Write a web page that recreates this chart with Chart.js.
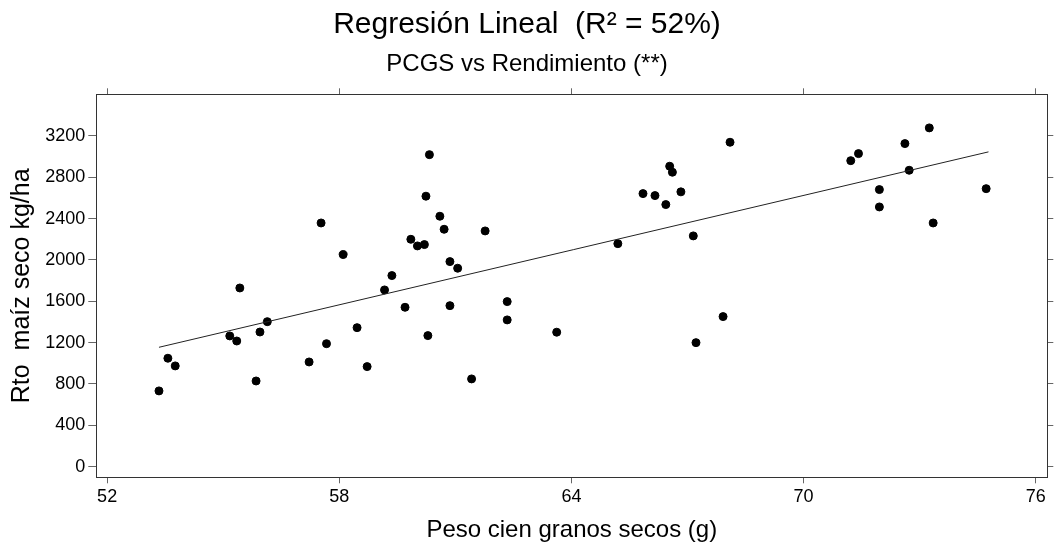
<!DOCTYPE html>
<html>
<head>
<meta charset="utf-8">
<script src="https://cdn.jsdelivr.net/npm/chart.js@4"></script>
<style>
  html, body { margin: 0; padding: 0; background: #fff; }
  #wrap { width: 1054px; height: 547px; position: relative; }
</style>
</head>
<body>
<div id="wrap"><canvas id="regChart"></canvas></div>
<script>
// Peso cien granos secos (g)
const pesoGranos = [
  53.34, 53.57, 53.76, 55.17, 55.35, 55.43, 55.85, 55.95, 56.14, 57.22,
  57.53, 57.67, 58.10, 58.46, 58.72, 59.17, 59.36, 59.70, 59.85, 60.02,
  60.20, 60.24, 60.29, 60.33, 60.60, 60.71, 60.86, 60.86, 61.06, 61.42,
  61.77, 62.34, 62.34, 63.62, 65.20, 65.85, 66.16, 66.44, 66.54, 66.61,
  66.83, 67.15, 67.22, 67.92, 68.10, 71.22, 71.42, 71.96, 71.96, 72.62,
  72.73, 73.25, 73.35, 74.72
];
// Rto maiz seco kg/ha
const rendimiento = [
  733, 1049, 975, 1265, 1216, 1729, 829, 1303, 1403, 1013,
  2358, 1190, 2052, 1345, 968, 1710, 1849, 1542, 2200, 2136,
  2149, 2617, 1268, 3019, 2423, 2297, 1984, 1558, 1920, 849,
  2281, 1597, 1420, 1301, 2158, 2642, 2623, 2536, 2907, 2849,
  2659, 2233, 1200, 1452, 3139, 2961, 3029, 2681, 2513, 3126,
  2868, 3278, 2358, 2690
];
// recta de regresion (extremos)
const rectaX = [53.34, 74.78];
const rectaY = [1155, 3046];

const xTicks = [52, 58, 64, 70, 76];
const yTicks = [0, 400, 800, 1200, 1600, 2000, 2400, 2800, 3200];

const FONT = "'Liberation Sans', Arial, sans-serif";

const puntos = pesoGranos.map((x, i) => ({ x: x, y: rendimiento[i] }));
const recta = rectaX.map((x, i) => ({ x: x, y: rectaY[i] }));

const setTicks = vals => scale => { scale.ticks = vals.map(v => ({ value: v })); };
const frame = { display: true, color: '#333', width: 1 };
const gridTicks = len => ({ drawOnChartArea: false, drawTicks: true, tickLength: len, color: '#666' });

new Chart(document.getElementById('regChart'), {
  type: 'scatter',
  data: {
    datasets: [
      {
        label: 'Recta',
        type: 'line',
        data: recta,
        showLine: true,
        borderColor: '#222',
        borderWidth: 1,
        pointRadius: 0,
        fill: false
      },
      {
        label: 'Datos',
        data: puntos,
        backgroundColor: '#000',
        borderColor: '#000',
        borderWidth: 1,
        pointRadius: 4,
        pointHoverRadius: 4
      }
    ]
  },
  options: {
    responsive: true,
    maintainAspectRatio: false,
    animation: false,
    layout: { padding: 0 },
    plugins: {
      legend: { display: false },
      tooltip: { enabled: false },
      title: {
        display: true,
        text: 'Regresión Lineal  (R² = 52%)',
        color: '#000',
        font: { family: FONT, size: 30, weight: 'normal' },
        padding: { top: 7, bottom: 0 }
      },
      subtitle: {
        display: true,
        text: 'PCGS vs Rendimiento (**)',
        color: '#000',
        font: { family: FONT, size: 24, weight: 'normal' },
        padding: { top: 6.6, bottom: 0 }
      }
    },
    scales: {
      x: {
        type: 'linear',
        position: 'bottom',
        min: 51.72,
        max: 76.3,
        afterBuildTicks: setTicks(xTicks),
        afterFit: s => { s.height = 69.7; },
        border: frame,
        grid: gridTicks(6),
        ticks: { color: '#000', padding: 3, maxRotation: 0, font: { family: FONT, size: 18 } },
        title: {
          display: true,
          text: 'Peso cien granos secos (g)',
          color: '#000',
          font: { family: FONT, size: 24 },
          padding: { top: 0, bottom: 2 }
        }
      },
      xTop: {
        type: 'linear',
        position: 'top',
        min: 51.72,
        max: 76.3,
        afterBuildTicks: setTicks(xTicks),
        afterFit: s => { s.height = 15.9; },
        border: frame,
        grid: gridTicks(6),
        ticks: { display: false }
      },
      y: {
        type: 'linear',
        position: 'left',
        min: -103,
        max: 3603,
        afterBuildTicks: setTicks(yTicks),
        afterFit: s => { s.width = 96.3; },
        border: frame,
        grid: gridTicks(8),
        ticks: {
          color: '#000',
          padding: 3,
          font: { family: FONT, size: 18 },
          callback: v => String(v)
        },
        title: {
          display: true,
          text: 'Rto  maíz seco kg/ha',
          color: '#000',
          font: { family: FONT, size: 25 },
          padding: { top: 7, bottom: 0 }
        }
      },
      yRight: {
        type: 'linear',
        position: 'right',
        min: -103,
        max: 3603,
        afterBuildTicks: setTicks(yTicks),
        afterFit: s => { s.width = 6.7; },
        border: frame,
        grid: gridTicks(6),
        ticks: { display: false }
      }
    }
  }
});
</script>
</body>
</html>
